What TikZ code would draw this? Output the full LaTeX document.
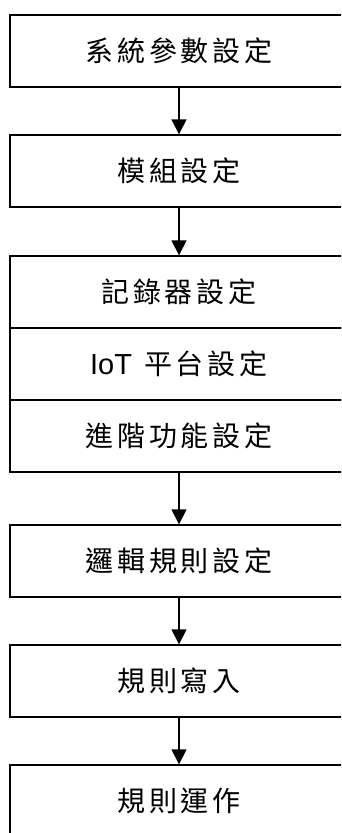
\documentclass[tikz,border=0pt]{standalone}
\usepackage{fontspec}
\newfontfamily\cjk{Noto Sans CJK TC}[LetterSpace=14]
\newfontfamily\lat{Liberation Sans}
\usetikzlibrary{arrows.meta}
\tikzset{
  stepbox/.style={draw=black, line width=1.4pt, rectangle, minimum width=338pt,
    minimum height=72pt, inner sep=0pt, font=\cjk\fontsize{28pt}{32pt}\selectfont},
  flow/.style={draw=black, line width=1.4pt, -{Triangle[width=15pt,length=15pt]}}
}
\begin{document}
\begin{tikzpicture}[x=1pt,y=-1pt]
\useasboundingbox (0,0) rectangle (341,833);
\begin{scope}
\clip (0,0) rectangle (341,833);
\node[stepbox] (b1) at (179,51) {系統參數設定};
\node[stepbox] (b2) at (179,171) {模組設定};
\node[stepbox] (r1) at (179,292) {記錄器設定};
\node[stepbox] (r2) at (179,364) {{\lat\fontsize{29pt}{32pt}\selectfont IoT}\hspace{12pt}平台設定};
\node[stepbox] (r3) at (179,436) {進階功能設定};
\node[stepbox] (b4) at (179,561) {邏輯規則設定};
\node[stepbox] (b5) at (179,681) {規則寫入};
\node[stepbox] (b6) at (179,801) {規則運作};
\draw[flow] (b1.south) -- (b2.north);
\draw[flow] (b2.south) -- (r1.north);
\draw[flow] (r3.south) -- (b4.north);
\draw[flow] (b4.south) -- (b5.north);
\draw[flow] (b5.south) -- (b6.north);
\end{scope}
\end{tikzpicture}
\end{document}
